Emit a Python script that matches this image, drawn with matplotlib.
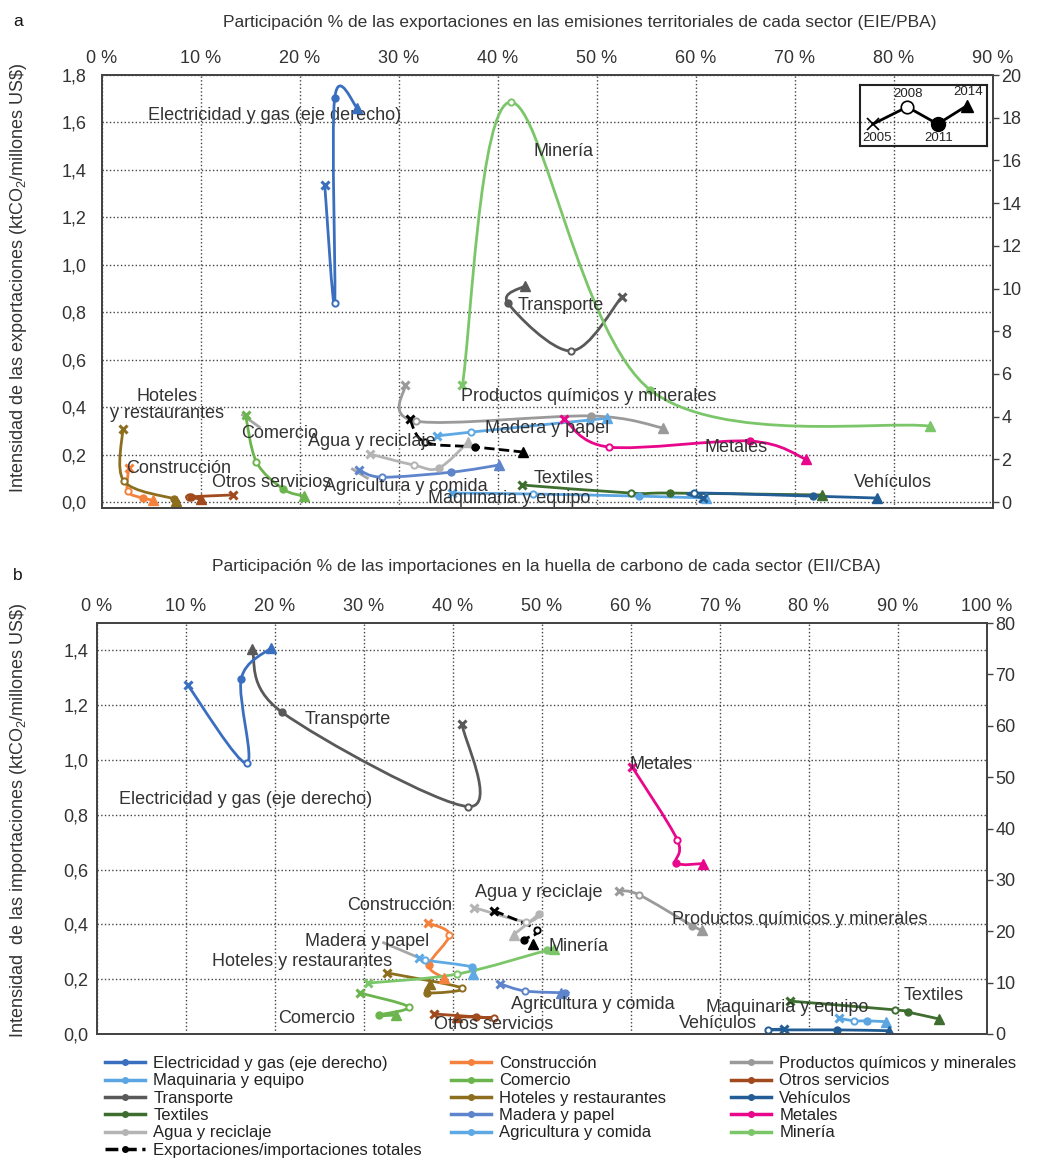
import numpy as np
import matplotlib
matplotlib.use("Agg")
import matplotlib.pyplot as plt
from matplotlib.path import Path
from matplotlib.patches import PathPatch
from matplotlib.lines import Line2D

plt.rcParams.update({"font.family": ["Liberation Sans", "DejaVu Sans"], "font.size": 13,
                     "mathtext.fontset": "custom", "mathtext.rm": "Liberation Sans",
                     "mathtext.it": "Liberation Sans:italic"})

YEARS = [2005, 2008, 2011, 2014]
ELEC = "Electricidad y gas (eje derecho)"
TOT = "Exportaciones/importaciones totales"

COLORS = {
    ELEC: "#3a6fc0", "Maquinaria y equipo": "#5ba6e2", "Transporte": "#595959",
    "Textiles": "#3e6e2f", "Agua y reciclaje": "#b4b4b4", TOT: "#000000",
    "Construcción": "#f4813c", "Comercio": "#6cb54e", "Hoteles y restaurantes": "#8d6e1e",
    "Madera y papel": "#5e85cc", "Agricultura y comida": "#5ea9e4",
    "Productos químicos y minerales": "#9a9a9a", "Otros servicios": "#a04a1e",
    "Vehículos": "#225d95", "Metales": "#e8068b", "Minería": "#7cc66a",
}

# panel a: x = % of exports in territorial emissions, y = export intensity
# (Electricidad y gas in right-axis units)
A_X = {
    ELEC: [22.5, 23.5, 23.5, 25.8],
    "Maquinaria y equipo": [35.4, 43.5, 54.2, 61.0],
    "Transporte": [52.5, 47.4, 41.0, 42.7],
    "Textiles": [42.4, 53.4, 57.4, 72.7],
    "Agua y reciclaje": [27.1, 31.5, 34.0, 37.0],
    TOT: [31.1, 32.6, 37.7, 42.5],
    "Construcción": [2.7, 2.6, 4.1, 5.2],
    "Comercio": [14.5, 15.6, 18.3, 20.4],
    "Hoteles y restaurantes": [2.1, 2.2, 7.3, 7.5],
    "Madera y papel": [26.0, 28.3, 35.3, 40.1],
    "Agricultura y comida": [33.8, 37.3, 49.3, 51.0],
    "Productos químicos y minerales": [30.6, 31.7, 49.4, 56.7],
    "Otros servicios": [13.2, 8.8, 9.0, 10.0],
    "Vehículos": [60.7, 59.8, 71.8, 78.3],
    "Metales": [46.7, 51.2, 65.5, 71.1],
    "Minería": [36.4, 41.3, 55.4, 83.6],
}
A_Y = {
    ELEC: [14.85, 9.32, 18.9, 18.45],
    "Maquinaria y equipo": [0.038, 0.034, 0.025, 0.017],
    "Transporte": [0.864, 0.637, 0.839, 0.911],
    "Textiles": [0.072, 0.038, 0.038, 0.030],
    "Agua y reciclaje": [0.202, 0.156, 0.143, 0.253],
    TOT: [0.350, 0.253, 0.232, 0.211],
    "Construcción": [0.143, 0.046, 0.017, 0.008],
    "Comercio": [0.367, 0.169, 0.055, 0.025],
    "Hoteles y restaurantes": [0.308, 0.089, 0.013, 0.004],
    "Madera y papel": [0.135, 0.105, 0.126, 0.156],
    "Agricultura y comida": [0.278, 0.295, 0.346, 0.354],
    "Productos químicos y minerales": [0.493, 0.341, 0.363, 0.312],
    "Otros servicios": [0.030, 0.022, 0.020, 0.012],
    "Vehículos": [0.017, 0.038, 0.025, 0.017],
    "Metales": [0.350, 0.232, 0.257, 0.181],
    "Minería": [0.493, 1.686, 0.472, 0.320],
}

# panel b: x = % of imports in carbon footprint, y = import intensity
B_X = {
    ELEC: [10.2, 16.8, 16.2, 19.5],
    "Maquinaria y equipo": [83.4, 85.0, 86.5, 88.6],
    "Transporte": [41.0, 41.7, 20.8, 17.4],
    "Textiles": [77.9, 89.7, 91.1, 94.6],
    "Agua y reciclaje": [42.4, 48.2, 49.7, 46.8],
    TOT: [44.6, 49.4, 48.0, 49.0],
    "Construcción": [37.2, 39.6, 37.3, 39.0],
    "Comercio": [29.5, 35.0, 31.7, 33.6],
    "Hoteles y restaurantes": [32.6, 41.0, 37.1, 37.4],
    "Madera y papel": [45.3, 48.1, 52.6, 52.1],
    "Agricultura y comida": [36.2, 36.8, 42.1, 42.3],
    "Productos químicos y minerales": [58.6, 60.9, 66.9, 68.0],
    "Otros servicios": [37.9, 44.6, 42.6, 40.5],
    "Vehículos": [77.2, 75.4, 83.1, 89.0],
    "Metales": [60.1, 65.2, 65.1, 68.1],
    "Minería": [30.5, 40.5, 50.6, 51.3],
}
B_Y = {
    ELEC: [67.9, 52.7, 69.1, 75.1],
    "Maquinaria y equipo": [0.058, 0.048, 0.048, 0.045],
    "Transporte": [1.133, 0.830, 1.174, 1.404],
    "Textiles": [0.120, 0.088, 0.080, 0.055],
    "Agua y reciclaje": [0.461, 0.410, 0.439, 0.362],
    TOT: [0.450, 0.380, 0.344, 0.329],
    "Construcción": [0.405, 0.362, 0.252, 0.205],
    "Comercio": [0.150, 0.099, 0.069, 0.069],
    "Hoteles y restaurantes": [0.223, 0.168, 0.150, 0.183],
    "Madera y papel": [0.183, 0.157, 0.150, 0.148],
    "Agricultura y comida": [0.278, 0.270, 0.245, 0.219],
    "Productos químicos y minerales": [0.523, 0.508, 0.395, 0.380],
    "Otros servicios": [0.073, 0.058, 0.062, 0.062],
    "Vehículos": [0.018, 0.015, 0.015, 0.012],
    "Metales": [0.976, 0.709, 0.625, 0.622],
    "Minería": [0.186, 0.219, 0.306, 0.311],
}

# in-chart labels (text, x, y on left axis)
A_LABELS = [
    (ELEC, 17.4, 1.63), ("Minería", 46.6, 1.476), ("Transporte", 46.3, 0.83),
    ("Productos químicos y minerales", 49.2, 0.447), ("Madera y papel", 45.0, 0.308),
    ("Agua y reciclaje", 27.2, 0.257), ("Metales", 64.0, 0.232), ("Textiles", 46.6, 0.101),
    ("Vehículos", 79.9, 0.084), ("Maquinaria y equipo", 41.1, 0.017),
    ("Agricultura y comida", 30.7, 0.067), ("Otros servicios", 17.1, 0.084),
    ("Comercio", 17.9, 0.291), ("Construcción", 7.7, 0.143),
    ("Hoteles\ny restaurantes", 6.6, 0.409),
]
B_LABELS = [
    ("Transporte", 28.2, 1.148), (ELEC, 16.7, 0.856), ("Metales", 63.4, 0.984),
    ("Agua y reciclaje", 49.6, 0.516),
    ("Construcción", 34.0, 0.468), ("Madera y papel", 30.4, 0.336),
    ("Hoteles y restaurantes", 23.0, 0.263), ("Comercio", 24.7, 0.055),
    ("Otros servicios", 44.6, 0.033), ("Minería", 54.1, 0.318),
    ("Productos químicos y minerales", 79.0, 0.417), ("Agricultura y comida", 55.7, 0.106),
    ("Maquinaria y equipo", 77.5, 0.095), ("Textiles", 94.0, 0.139), ("Vehículos", 69.8, 0.037),
]
A_LEADERS = [((14.2, 15.9), (0.367, 0.316)), ((25.3, 26.8), (0.139, 0.101))]
B_LEADERS = [((32.2, 36.2), (0.333, 0.278))]

INSET_X = [0.10, 0.37, 0.61, 0.84]
INSET_Y = [0.36, 0.64, 0.36, 0.66]

LEG_COLS = [
    [ELEC, "Maquinaria y equipo", "Transporte", "Textiles", "Agua y reciclaje", TOT],
    ["Construcción", "Comercio", "Hoteles y restaurantes", "Madera y papel", "Agricultura y comida"],
    ["Productos químicos y minerales", "Otros servicios", "Vehículos", "Metales", "Minería"],
]

TXT = "#333333"
W, H = 1059, 1166


def smooth_path(xs, ys):
    # Catmull-Rom style bezier through the points (Excel "smoothed line")
    P = np.column_stack([xs, ys]).astype(float)
    n = len(P)
    verts, codes = [P[0]], [Path.MOVETO]
    for i in range(n - 1):
        p0 = P[i - 1] if i > 0 else P[i]
        p3 = P[i + 2] if i + 2 < n else P[i + 1]
        verts += [P[i] + (P[i + 1] - p0) / 6, P[i + 1] - (p3 - P[i]) / 6, P[i + 1]]
        codes += [Path.CURVE4] * 3
    return Path(verts, codes)


def draw_series(ax, xs, ys, c, dashed=False):
    ax.add_patch(PathPatch(smooth_path(xs, ys), fill=False, edgecolor=c, lw=2.0,
                           ls="--" if dashed else "-", zorder=3))
    ax.plot(xs[:1], ys[:1], "x", color=c, ms=6, mew=2.2, zorder=4)
    ax.plot(xs[1:2], ys[1:2], "o", mfc="white", mec=c, ms=4.5, mew=1.4, zorder=4)
    ax.plot(xs[2:3], ys[2:3], "o", color=c, ms=5, zorder=4)
    ax.plot(xs[3:4], ys[3:4], "^", color=c, ms=6.5, zorder=4)


def setup(ax, ax2, xmax, ylim, yticks, rlim, rticks, ypad):
    ax.set_xlim(0, xmax); ax.set_ylim(*ylim)
    ax2.set_ylim(*rlim)
    ax.set_xticks(np.arange(0, xmax + 1, 10))
    ax.set_xticklabels([f"{v:.0f} %" for v in np.arange(0, xmax + 1, 10)])
    ax.xaxis.set_ticks_position("top")
    ax.set_yticks(yticks)
    ax.set_yticklabels([f"{v:.1f}".replace(".", ",") for v in yticks])
    ax2.set_yticks(rticks)
    ax2.set_yticklabels([f"{v:.0f}" for v in rticks])
    ax.tick_params(axis="x", length=0, pad=6, labelsize=13, labelcolor=TXT)
    ax.tick_params(axis="y", length=0, pad=ypad, labelsize=13, labelcolor=TXT)
    ax2.tick_params(axis="y", length=4, width=1, direction="out", pad=2, labelsize=13,
                    labelcolor=TXT, color="#444444")
    ax.grid(True, ls=":", color="#444444", lw=1.0)
    ax.set_axisbelow(True)
    for a in (ax, ax2):
        for s in a.spines.values():
            s.set_color("#444444"); s.set_linewidth(1.3)


fig = plt.figure(figsize=(W / 100, H / 100), dpi=100)
axA = fig.add_axes([102 / W, 1 - 508 / H, 891 / W, 433 / H])
axA2 = axA.twinx()
axB = fig.add_axes([97 / W, 1 - 1034 / H, 890 / W, 411 / H])
axB2 = axB.twinx()

setup(axA, axA2, 90, (-0.025, 1.8), np.round(np.arange(0, 1.81, 0.2), 1),
      (-0.025 / 1.8 * 20, 20), np.arange(0, 21, 2), 11)
setup(axB, axB2, 100, (0, 1.5), np.round(np.arange(0, 1.41, 0.2), 1),
      (0, 80), np.arange(0, 81, 10), 6)

for ax, ax2, X, Y, labels, leaders in [(axA, axA2, A_X, A_Y, A_LABELS, A_LEADERS),
                                        (axB, axB2, B_X, B_Y, B_LABELS, B_LEADERS)]:
    for (lx, ly) in leaders:
        ax.plot(lx, ly, color="#a6a6a6", lw=2, zorder=2)
    for name in COLORS:
        target = ax2 if name == ELEC else ax
        draw_series(target, X[name], Y[name], COLORS[name], dashed=(name == TOT))
    for txt, tx, ty in labels:
        ax.text(tx, ty, txt, ha="center", va="center", fontsize=13, color=TXT,
                linespacing=1.0, zorder=6)

# year key (inset)
ins = axA.inset_axes([0.851, 0.836, 0.1425, 0.141])
ins.set_xlim(0, 1); ins.set_ylim(0, 1)
ins.set_xticks([]); ins.set_yticks([])
ins.patch.set_alpha(0)
for s in ins.spines.values():
    s.set_color("#222222"); s.set_linewidth(1.5)
ins.plot(INSET_X, INSET_Y, color="black", lw=2)
ins.plot(INSET_X[:1], INSET_Y[:1], "x", color="black", ms=9, mew=1.2)
ins.plot(INSET_X[1:2], INSET_Y[1:2], "o", mfc="white", mec="black", ms=9, mew=1.2)
ins.plot(INSET_X[2:3], INSET_Y[2:3], "o", color="black", ms=10)
ins.plot(INSET_X[3:4], INSET_Y[3:4], "^", color="black", ms=9)
for i, yr in enumerate(YEARS):
    below = i in (0, 2)
    ins.text(INSET_X[i] + (0.03 if i == 0 else 0.01), INSET_Y[i] + (-0.23 if below else 0.22),
             str(yr), ha="center", va="center", fontsize=9.5, color="#222222")

# titles, panel letters, axis labels
fig.text(580 / W, 1 - 23 / H,
         "Participación % de las exportaciones en las emisiones territoriales de cada sector (EIE/PBA)",
         ha="center", va="center", fontsize=12.5, color=TXT)
fig.text(546 / W, 1 - 567 / H,
         "Participación % de las importaciones en la huella de carbono de cada sector (EII/CBA)",
         ha="center", va="center", fontsize=12.5, color=TXT)
fig.text(18 / W, 1 - 22 / H, "a", ha="center", va="center", fontsize=12.5, color="#111111")
fig.text(18 / W, 1 - 575 / H, "b", ha="center", va="center", fontsize=12.5, color="#111111")
fig.text(19 / W, 1 - 278 / H, r"Intensidad de las exportaciones (ktCO$_2$/millones US\$)",
         rotation=90, ha="center", va="center", fontsize=13, color=TXT)
fig.text(19 / W, 1 - 820 / H, r"Intensidad  de las importaciones (ktCO$_2$/millones US\$)",
         rotation=90, ha="center", va="center", fontsize=13, color=TXT)

# legend in three columns
for names, x0 in zip(LEG_COLS, [105, 451, 731]):
    handles = [Line2D([], [], color=COLORS[n], lw=2.5, ls="--" if n == TOT else "-",
                      marker="o", ms=4) for n in names]
    fig.legend(handles, names, loc="upper left", bbox_to_anchor=(x0 / W, 1 - 1056 / H),
               frameon=False, fontsize=12, labelspacing=0.14, handlelength=2.4,
               handletextpad=0.5, borderpad=0, borderaxespad=0, labelcolor="#222222")

fig.savefig("out.png", dpi=100)
